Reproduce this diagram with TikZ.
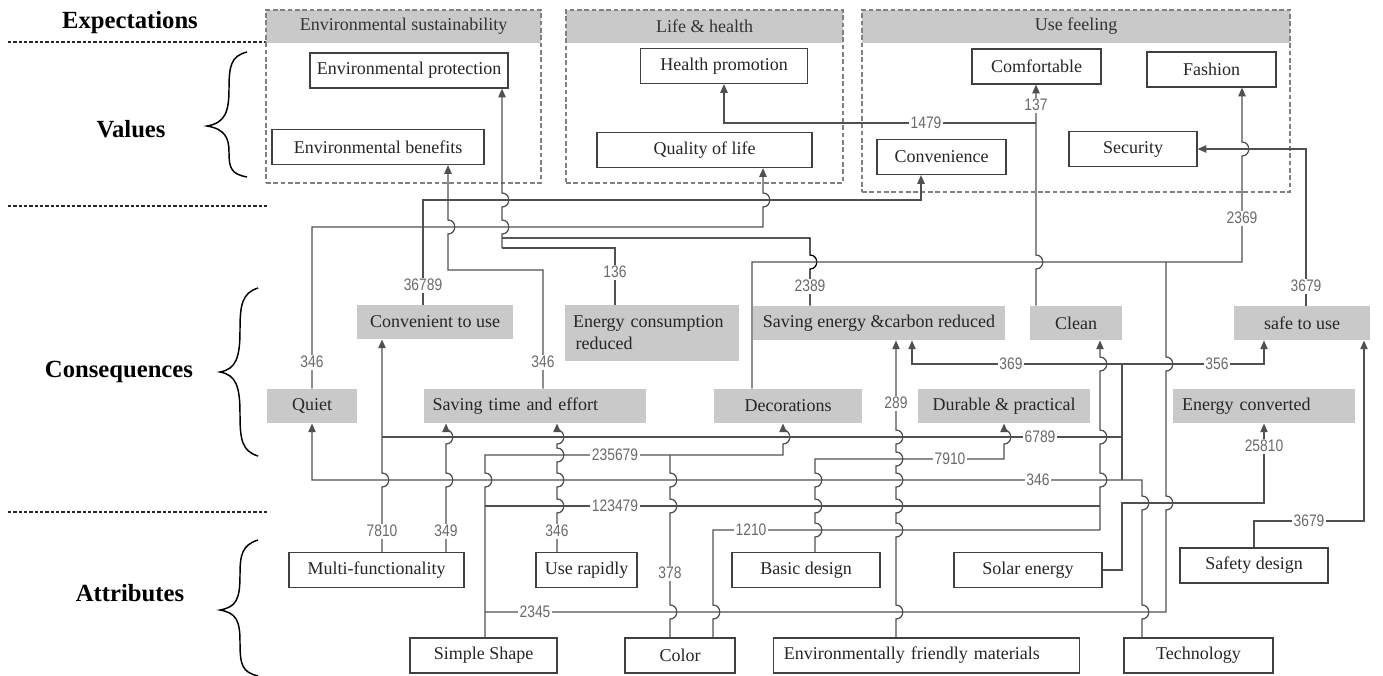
\documentclass[tikz,border=0pt]{standalone}
\usepackage{fontspec}
\setmainfont{Liberation Serif}
\newfontfamily\numfont{Liberation Sans}
\usetikzlibrary{arrows.meta}

\newcommand{\boxfont}{\fontsize{13.5}{16.5}\selectfont}
\newcommand{\headfont}{\fontsize{18.5}{20}\selectfont\bfseries}
\newcommand{\lblfont}{\numfont\fontsize{12.5}{13}\selectfont}
\newcommand{\nb}[1]{\scalebox{0.83}[1]{#1}}
% vertical wire that hops over crossing wires (going up)
\newcommand{\hops}[2]{\foreach \h in {#2} { -- (#1,\h+7) .. controls (#1+9,\h+7) and (#1+9,\h-7) .. (#1,\h-7) }}

\definecolor{wirec}{HTML}{505050}
\definecolor{boxg}{HTML}{C9C9C9}
\definecolor{lblc}{HTML}{6A6A6A}

\tikzset{every picture/.style={line width=0.75pt}}
\tikzset{
  valbox/.style={draw=black!75, fill=white, line width=0.9pt, inner sep=0pt, minimum height=26.25pt, font=\boxfont, text=black!85},
  attbox/.style={valbox},
  csqbox/.style={fill=boxg, inner sep=0pt, minimum height=25.5pt, font=\boxfont, text=black!85},
  hdrbox/.style={fill=boxg, inner sep=0pt, minimum height=24.75pt, font=\boxfont, text=black!80},
  grpbox/.style={draw=gray, dash pattern=on 3.5pt off 2pt, line width=1.2pt, inner sep=0pt},
  sepline/.style={draw=black!85, dash pattern=on 2.5pt off 1.5pt, line width=1.1pt},
  wire/.style={draw=wirec, line width=0.95pt},
  arrw/.style={wire, -{Triangle[width=5.5pt,length=6.5pt]}},
  lbl/.style={fill=white, inner sep=1.2pt, font=\lblfont, text=lblc},
  headlbl/.style={font=\headfont},
  curly/.style={draw=black, line width=1.1pt},
}

\begin{document}
\begin{tikzpicture}[x=0.75pt,y=0.75pt,yscale=-1,xscale=1]
	\path[use as bounding box, fill=white] (0,0) rectangle (1383,675);

	%Level titles
	\node[headlbl] (hexp) at (130,23) {Expectations};
	\node[headlbl] (hval) at (131,129) {Values};
	\node[headlbl] (hcon) at (119,372) {Consequences};
	\node[headlbl] (hatt) at (130,593) {Attributes};
	%Separators
	\draw[sepline] (8,42) -- (266,42);
	\draw[sepline] (8,206) -- (268,206);
	\draw[sepline] (8,512) -- (268,512);
	%Braces
	\draw[curly] (247,52) .. controls (231,56) and (229,66) .. (229,89) .. controls (229,112) and (225,123) .. (207,126) .. controls (225,129) and (229,138) .. (229,152) .. controls (229,168) and (231,174) .. (247,177);
	\draw[curly] (258,288) .. controls (242,293) and (240,305) .. (240,330) .. controls (240,358) and (236,369) .. (220,372) .. controls (236,375) and (240,386) .. (240,414) .. controls (240,440) and (242,451) .. (258,456);
	\draw[curly] (258,540) .. controls (242,545) and (240,555) .. (240,575) .. controls (240,600) and (236,607) .. (220,610) .. controls (236,613) and (240,620) .. (240,642) .. controls (240,665) and (242,672) .. (258,676);

	%Expectation groups
	\node[hdrbox, minimum width=206.25pt] (hsus) at (403.5,26.5) {Environmental sustainability};
	\node[hdrbox, minimum width=207.75pt] (hlif) at (704.5,26.5) {Life \& health};
	\node[hdrbox, minimum width=321pt] (huse) at (1076,26.5) {Use feeling};
	\node[grpbox, minimum width=206.25pt, minimum height=129.75pt] (gsus) at (403.5,96.5) {};
	\node[grpbox, minimum width=207.75pt, minimum height=129.75pt] (glif) at (704.5,96.5) {};
	\node[grpbox, minimum width=321pt, minimum height=136.5pt] (guse) at (1076,101) {};

	%Values
	\node[valbox, minimum width=148.5pt] (vprot) at (409,70.5) {Environmental protection};
	\node[valbox, minimum width=159pt] (vbene) at (378,147) {Environmental benefits};
	\node[valbox, minimum width=125.25pt] (vhlth) at (724,66) {Health promotion};
	\node[valbox, minimum width=161.25pt] (vqual) at (704.5,150) {Quality of life};
	\node[valbox, minimum width=96.75pt] (vconv) at (941.5,157) {Convenience};
	\node[valbox, minimum width=96.75pt] (vcomf) at (1036.5,66.5) {Comfortable};
	\node[valbox, minimum width=96.75pt] (vfash) at (1211.5,69.5) {Fashion};
	\node[valbox, minimum width=96pt] (vsecu) at (1133,149) {Security};

	%Consequences
	\node[csqbox, minimum width=117pt] (cconv) at (435,322) {Convenient to use};
	\node[csqbox, text width=118.5pt, inner xsep=6pt, minimum height=42pt, align=left] (cecr) at (652,333) {Energy consumption\\\hspace{2pt}reduced};
	\node[csqbox, minimum width=189pt] (csave) at (879,323) {Saving energy \&carbon reduced};
	\node[csqbox, minimum width=69pt] (cclean) at (1076,323) {Clean};
	\node[csqbox, minimum width=102pt] (csafe) at (1302,323) {safe to use};
	\node[csqbox, minimum width=67.5pt] (cquiet) at (312,406) {Quiet};
	\node[csqbox, text width=153pt, inner xsep=6.75pt, align=left] (ctime) at (534.5,406) {Saving time and effort};
	\node[csqbox, minimum width=111pt] (cdeco) at (788,406) {Decorations};
	\node[csqbox, minimum width=129pt] (cdur) at (1004,406) {Durable \& practical};
	\node[csqbox, text width=123pt, inner xsep=7pt, align=left] (cecv) at (1264,406) {Energy converted};

	%Attributes
	\node[attbox, minimum width=131.25pt] (amulti) at (376.5,570) {Multi-functionality};
	\node[attbox, minimum width=75.75pt] (arapid) at (586.5,570) {Use rapidly};
	\node[attbox, minimum width=111pt] (abasic) at (806,570) {Basic design};
	\node[attbox, minimum width=111pt] (asolar) at (1028,570) {Solar energy};
	\node[attbox, minimum width=111pt] (asafety) at (1254,565.5) {Safety design};
	\node[attbox, minimum width=110.25pt] (ashape) at (483.5,655.5) {Simple Shape};
	\node[attbox, minimum width=82.5pt] (acolor) at (680,655.5) {Color};
	\node[attbox, text width=214pt, inner xsep=8pt, align=left] (aenv) at (926.5,655.5) {Environmentally friendly materials};
	\node[attbox, minimum width=111.75pt] (atech) at (1198.5,655.5) {Technology};

	%Junctions
	\coordinate (jprot) at (502,248);
	\coordinate (jclean) at (1036,123);
	\coordinate (jcln) at (1100,530);
	\coordinate (jtech) at (1122,480);

	%Consequences -> values
	\draw[arrw] (cconv.north-|423,0) -- (423,200) -- (921,200) -- (vconv.south-|921,0);
	\draw[arrw] (cquiet.north-|312,0) -- (312,227) -- (763,227) \hops{763}{200} -- (vqual.south-|763,0);
	\draw[arrw] (ctime.north-|543,0) -- (543,270) -- (448,270) \hops{448}{227} -- (vbene.south-|448,0);
	\draw[wire] (cecr.north-|615,0) -- (615,248) -- (jprot);
	\draw[wire, draw=black] (csave.north-|810,0) \hops{810}{262} -- (810,238) -- (502,238);
	\draw[arrw] (jprot) -- (502,238) \hops{502}{227,200} -- (vprot.south-|502,0);
	\draw[arrw] (cdeco.north-|752,0) -- (752,262) -- (1242,262) \hops{1242}{149} -- (vfash.south-|1242,0);
	\draw[arrw] (cclean.north-|1036,0) \hops{1036}{262} -- (vcomf.south-|1036,0);
	\draw[arrw] (jclean) -- (724,123) -- (vhlth.south-|724,0);
	\draw[arrw] (csafe.north-|1306,0) -- (1306,149) -- (vsecu.east);

	%Attributes -> consequences
	\draw[arrw] (amulti.north-|382,0) \hops{382}{480} -- (cconv.south-|382,0);
	\draw[arrw] (amulti.north-|446,0) \hops{446}{480,437} -- (ctime.south-|446,0);
	\draw[arrw] (arapid.north-|557,0) \hops{557}{506,480,455,437} -- (ctime.south-|557,0);
	\draw[arrw] (ashape.north-|485,0) \hops{485}{480} -- (485,455) -- (783,455) \hops{783}{437} -- (cdeco.south-|783,0);
	\draw[wire] (485,506) -- (1100,506);
	\draw[wire] (485,612) -- (1166,612) \hops{1166}{503,364} -- (1166,262);
	\draw[wire] (acolor.north-|670,0) \hops{670}{612,506,480} -- (670,455);
	\draw[wire] (acolor.north-|713,0) \hops{713}{612} -- (713,530) -- (jcln);
	\draw[arrw] (jcln) -- (1100,506) \hops{1100}{480,437,364} -- (cclean.south-|1100,0);
	\draw[arrw] (abasic.north-|815,0) \hops{815}{530,506,480} -- (815,459) -- (1004,459) \hops{1004}{437} -- (cdur.south-|1004,0);
	\draw[arrw] (aenv.north-|896,0) \hops{896}{612,530,506,480,459,437} -- (csave.south-|896,0);
	\draw[arrw] (atech.north-|1142,0) \hops{1142}{612,503} -- (1142,480) -- (312,480) -- (cquiet.south-|312,0);
	\draw[arrw] (jtech) -- (1122,364) -- (912,364) -- (csave.south-|912,0);
	\draw[arrw] (1122,364) -- (1264,364) -- (csafe.south-|1264,0);
	\draw[wire] (1122,437) -- (382,437);
	\draw[arrw] (asolar.east) -- (1122,570) -- (1122,503) -- (1264,503) -- (cecv.south-|1264,0);
	\draw[arrw] (asafety.north-|1254,0) -- (1254,521) -- (1364,521) -- (csafe.south-|1364,0);

	%Path labels
	\node[lbl] (n36789) at (423,285) {\nb{36789}};
	\node[lbl] (n346q) at (312,362) {\nb{346}};
	\node[lbl] (n346t) at (543,362) {\nb{346}};
	\node[lbl] (n136) at (615,272) {\nb{136}};
	\node[lbl] (n2389) at (810,286) {\nb{2389}};
	\node[lbl] (n2369) at (1242,218) {\nb{2369}};
	\node[lbl] (n3679a) at (1306,286) {\nb{3679}};
	\node[lbl] (n137) at (1036,105) {\nb{137}};
	\node[lbl] (n1479) at (926,123) {\nb{1479}};
	\node[lbl] (n369) at (1011,364) {\nb{369}};
	\node[lbl] (n356) at (1217,364) {\nb{356}};
	\node[lbl] (n289) at (896,403) {\nb{289}};
	\node[lbl] (n6789) at (1040,437) {\nb{6789}};
	\node[lbl] (n7910) at (950,459) {\nb{7910}};
	\node[lbl] (n235679) at (615,455) {\nb{235679}};
	\node[lbl] (n346b) at (1038,480) {\nb{346}};
	\node[lbl] (n25810) at (1264,446) {\nb{25810}};
	\node[lbl] (n123479) at (615,506) {\nb{123479}};
	\node[lbl] (n1210) at (751,530) {\nb{1210}};
	\node[lbl] (n3679b) at (1309,521) {\nb{3679}};
	\node[lbl] (n7810) at (382,531) {\nb{7810}};
	\node[lbl] (n349) at (446,531) {\nb{349}};
	\node[lbl] (n346r) at (557,531) {\nb{346}};
	\node[lbl] (n378) at (670,573) {\nb{378}};
	\node[lbl] (n2345) at (535,612) {\nb{2345}};

\end{tikzpicture}
\end{document}
